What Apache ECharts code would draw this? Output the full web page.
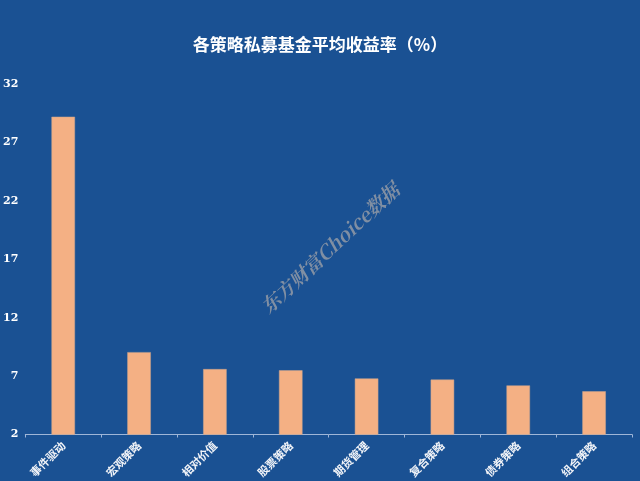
<!DOCTYPE html>
<html>
<head>
<meta charset="utf-8">
<script src="https://cdn.jsdelivr.net/npm/echarts@6/dist/echarts.min.js"></script>
<style>
html,body{margin:0;padding:0;background:#1A5193;}
#c{width:640px;height:481px;}
</style>
</head>
<body>
<div id="c"></div>
<script>
const categories = ['事件驱动','宏观策略','相对价值','股票策略','期货管理','复合策略','债券策略','组合策略'];
const values = [29.2, 9.05, 7.6, 7.5, 6.8, 6.7, 6.2, 5.7];
const yTicks = [2, 7, 12, 17, 22, 27, 32];

const chart = echarts.init(document.getElementById('c'));
chart.setOption({
  backgroundColor: '#1A5193',
  animation: false,
  title: {
    text: '各策略私募基金平均收益率（%）',
    left: 'center',
    top: 31,
    textStyle: { color: '#FFFFFF', fontSize: 17, fontWeight: 'bold', fontFamily: 'Noto Sans CJK SC' }
  },
  grid: { left: 21, right: 8, top: 84, bottom: 46.5 },
  xAxis: {
    type: 'category',
    data: categories,
    axisLine: { lineStyle: { color: '#9FB6D8', width: 1 } },
    axisTick: { show: true, alignWithLabel: false, length: 3, lineStyle: { color: '#9FB6D8' } },
    axisLabel: { color: '#F2F4F8', rotate: 45, fontSize: 11, fontFamily: 'Noto Sans CJK SC', fontWeight: 'bold', margin: 9 }
  },
  yAxis: {
    type: 'value',
    min: yTicks[0],
    max: yTicks[yTicks.length - 1],
    interval: 5,
    splitLine: { show: false },
    axisLine: { show: false },
    axisTick: { show: false },
    axisLabel: { color: '#FFFFFF', fontSize: 11, fontWeight: 'bold', fontFamily: 'DejaVu Serif', margin: 7 }
  },
  series: [{
    type: 'bar',
    data: values,
    barWidth: '31%',
    itemStyle: { color: '#F4B084', borderColor: '#C9A58E', borderWidth: 0.5 }
  }],
  graphic: [{
    type: 'text',
    x: 330, y: 248,
    rotation: Math.PI * 43 / 180,
    style: {
      text: '东方财富Choice数据',
      x: 0, y: 0,
      align: 'center',
      verticalAlign: 'middle',
      fill: 'rgba(140,150,165,0.9)',
      font: 'italic bold 19px "Noto Serif CJK SC", "DejaVu Serif", serif'
    }
  }]
});
</script>
</body>
</html>
